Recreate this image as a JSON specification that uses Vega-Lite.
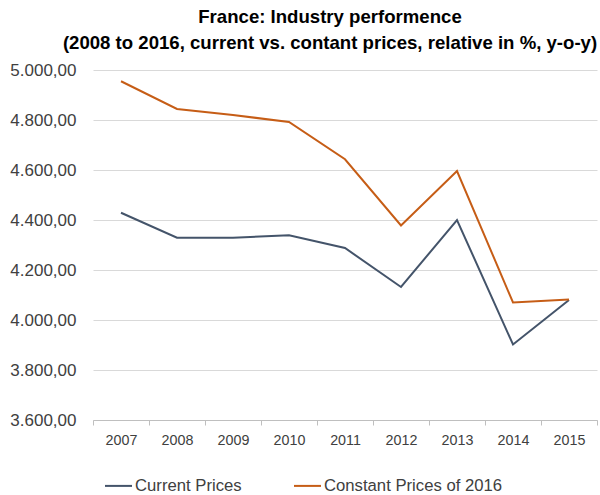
{
  "$schema": "https://vega.github.io/schema/vega-lite/v6.json",
  "autosize": "none",
  "width": 504,
  "height": 350,
  "padding": {"left": 93, "top": 70, "right": 3, "bottom": 75},
  "background": "white",
  "config": {
    "locale": {"number": {"decimal": ",", "thousands": ".", "grouping": [3], "currency": ["", " €"]}},
    "font": "Liberation Sans",
    "view": {"stroke": null}
  },
  "title": {
    "text": ["France: Industry performence", "(2008 to 2016, current vs. contant prices, relative in %, y-o-y)"],
    "font": "Liberation Sans",
    "fontSize": 18.6,
    "fontWeight": "bold",
    "color": "#000000",
    "anchor": "middle",
    "dx": -15,
    "offset": 8,
    "lineHeight": 26
  },
  "data": {
    "values": [
      {"year": "2007", "series": "Current Prices", "value": 4429},
      {"year": "2008", "series": "Current Prices", "value": 4329},
      {"year": "2009", "series": "Current Prices", "value": 4329},
      {"year": "2010", "series": "Current Prices", "value": 4339},
      {"year": "2011", "series": "Current Prices", "value": 4288},
      {"year": "2012", "series": "Current Prices", "value": 4132},
      {"year": "2013", "series": "Current Prices", "value": 4400},
      {"year": "2014", "series": "Current Prices", "value": 3902},
      {"year": "2015", "series": "Current Prices", "value": 4080},
      {"year": "2007", "series": "Constant Prices of 2016", "value": 4955},
      {"year": "2008", "series": "Constant Prices of 2016", "value": 4844},
      {"year": "2009", "series": "Constant Prices of 2016", "value": 4820},
      {"year": "2010", "series": "Constant Prices of 2016", "value": 4792},
      {"year": "2011", "series": "Constant Prices of 2016", "value": 4643},
      {"year": "2012", "series": "Constant Prices of 2016", "value": 4378},
      {"year": "2013", "series": "Constant Prices of 2016", "value": 4596},
      {"year": "2014", "series": "Constant Prices of 2016", "value": 4070},
      {"year": "2015", "series": "Constant Prices of 2016", "value": 4082}
    ]
  },
  "mark": {"type": "line", "strokeWidth": 2},
  "encoding": {
    "x": {
      "field": "year",
      "type": "ordinal",
      "bandPosition": 0.5,
      "scale": {"type": "band", "paddingInner": 0, "paddingOuter": 0},
      "axis": {
        "title": null,
        "labelAngle": 0,
        "labelFont": "Liberation Sans",
        "labelFontSize": 14.3,
        "labelColor": "#404040",
        "labelPadding": 8,
        "domainColor": "#bfbfbf",
        "domainWidth": 1,
        "tickColor": "#bfbfbf",
        "tickSize": 5,
        "tickBand": "extent",
        "grid": false
      }
    },
    "y": {
      "field": "value",
      "type": "quantitative",
      "scale": {"domain": [3600, 5000], "nice": false, "zero": false},
      "axis": {
        "title": null,
        "values": [3600, 3800, 4000, 4200, 4400, 4600, 4800, 5000],
        "format": ",.2f",
        "labelFont": "Liberation Sans",
        "labelFontSize": 17,
        "labelColor": "#404040",
        "labelPadding": 17,
        "domain": false,
        "ticks": false,
        "grid": true,
        "gridColor": "#d9d9d9",
        "gridWidth": 1
      }
    },
    "color": {
      "field": "series",
      "type": "nominal",
      "scale": {"domain": ["Current Prices", "Constant Prices of 2016"], "range": ["#44546a", "#c65d16"]},
      "legend": {
        "title": null,
        "orient": "none",
        "legendX": 11,
        "legendY": 401,
        "direction": "horizontal",
        "symbolType": "stroke",
        "symbolSize": 729,
        "symbolStrokeWidth": 2,
        "labelFont": "Liberation Sans",
        "labelFontSize": 16.7,
        "labelColor": "#404040",
        "labelLimit": 400,
        "columnPadding": 48,
        "labelOffset": 2
      }
    }
  }
}
